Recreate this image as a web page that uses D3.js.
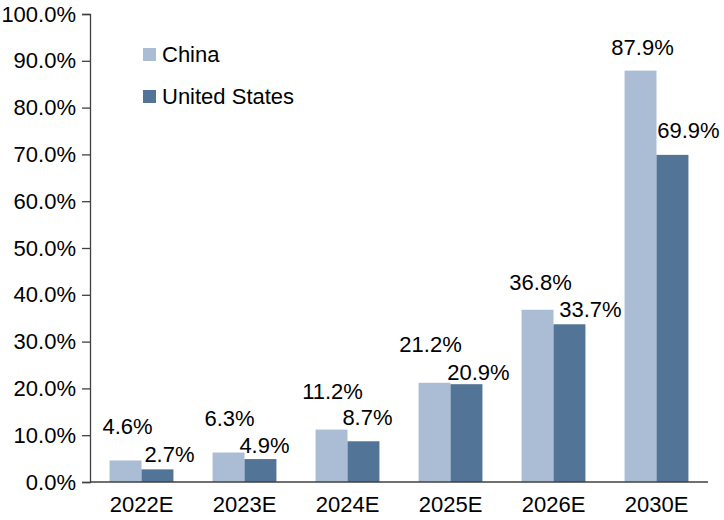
<!DOCTYPE html>
<html>
<head>
<meta charset="utf-8">
<script src="https://cdn.jsdelivr.net/npm/d3@7"></script>
<style>
  body { margin: 0; background: #fff; }
  svg { display: block; font-family: "Liberation Sans", Arial, sans-serif; }
</style>
</head>
<body>
<svg id="chart" width="724" height="520"></svg>
<script>
const categories = ["2022E", "2023E", "2024E", "2025E", "2026E", "2030E"];
const seriesNames = ["China", "United States"];
const chinaValues = [4.6, 6.3, 11.2, 21.2, 36.8, 87.9];
const usValues = [2.7, 4.9, 8.7, 20.9, 33.7, 69.9];
const yTicks = [0, 10, 20, 30, 40, 50, 60, 70, 80, 90, 100];

// label nudges (pixels) relative to default placement above each bar
const chinaLabelNudge = [[2, -18], [1, -19], [1, -23], [-4, -23], [3, -12], [2, -8]];
const usLabelNudge = [[12, 1], [4, 2], [4, -8], [12, 4], [21, 1], [16, -9]];

const colors = { "China": "#AABDD4", "United States": "#527497" };
const FS = 22;

const svg = d3.select("#chart");
const margin = { left: 90, right: 16, top: 14, bottom: 38 };
const W = 724, H = 520;

const x0 = d3.scaleBand().domain(categories).range([margin.left, W - margin.right]).paddingInner(0.38).paddingOuter(0.19);
const x1 = d3.scaleBand().domain(seriesNames).range([0, x0.bandwidth()]);
const y = d3.scaleLinear().domain([0, 100]).range([H - margin.bottom, margin.top]);

const data = categories.map((c, i) => ({ cat: c, vals: [
  { s: "China", v: chinaValues[i], nudge: chinaLabelNudge[i] },
  { s: "United States", v: usValues[i], nudge: usLabelNudge[i] }
]}));

const groups = svg.append("g").selectAll("g").data(data).join("g")
  .attr("transform", d => `translate(${x0(d.cat)},0)`);

groups.selectAll("rect").data(d => d.vals).join("rect")
  .attr("x", d => x1(d.s))
  .attr("y", d => y(d.v))
  .attr("width", x1.bandwidth())
  .attr("height", d => y(0) - y(d.v))
  .attr("fill", d => colors[d.s]);

groups.selectAll("text").data(d => d.vals).join("text")
  .attr("x", d => x1(d.s) + x1.bandwidth() / 2 + d.nudge[0])
  .attr("y", d => y(d.v) - 8 + d.nudge[1])
  .attr("text-anchor", "middle")
  .attr("font-size", FS)
  .attr("fill", "#000")
  .text(d => d.v.toFixed(1) + "%");

// y axis
const yAxis = d3.axisLeft(y).tickValues(yTicks).tickSize(8).tickPadding(6)
  .tickFormat(d => d.toFixed(1) + "%");
const gy = svg.append("g").attr("transform", `translate(${margin.left},0)`).call(yAxis);
gy.attr("font-size", FS).attr("font-family", "Liberation Sans, Arial, sans-serif");
gy.select(".domain").attr("stroke", "#404040").attr("stroke-width", 1.3);
gy.selectAll(".tick line").attr("stroke", "#404040").attr("stroke-width", 1.3);
gy.selectAll(".tick text").attr("fill", "#000");

// x axis
const xAxis = d3.axisBottom(x0).tickSize(0).tickPadding(14);
const gx = svg.append("g").attr("transform", `translate(0,${y(0)})`).call(xAxis);
gx.attr("font-size", FS).attr("font-family", "Liberation Sans, Arial, sans-serif");
gx.select(".domain").attr("stroke", "#404040").attr("stroke-width", 1.3)
  .attr("d", `M${margin.left},0H${W - margin.right}`);
gx.selectAll(".tick text").attr("fill", "#000");

// legend
const legend = svg.append("g").attr("transform", "translate(143,48)");
const li = legend.selectAll("g").data(seriesNames).join("g")
  .attr("transform", (d, i) => `translate(0,${i * 42})`);
li.append("rect").attr("width", 13).attr("height", 13).attr("fill", d => colors[d]);
li.append("text").attr("x", 19).attr("y", 14).attr("font-size", FS).attr("fill", "#000").text(d => d);
</script>
</body>
</html>
